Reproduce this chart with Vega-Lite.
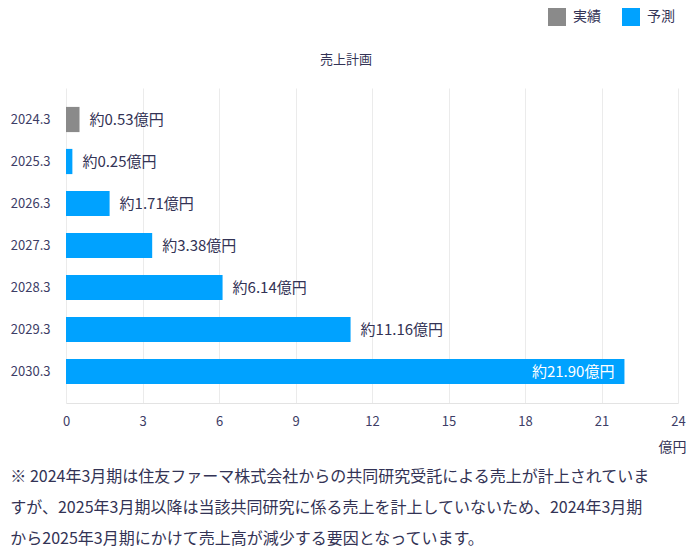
{
  "$schema": "https://vega.github.io/schema/vega-lite/v6.json",
  "padding": {"left": 10, "top": 8, "right": 10, "bottom": 6},
  "config": {"font": "Noto Sans CJK JP", "view": {"stroke": null}},
  "title": {
    "text": ["※ 2024年3月期は住友ファーマ株式会社からの共同研究受託による売上が計上されていま", "すが、2025年3月期以降は当該共同研究に係る売上を計上していないため、2024年3月期", "から2025年3月期にかけて売上高が減少する要因となっています。"],
    "orient": "bottom", "anchor": "start", "frame": "bounds",
    "fontSize": 16, "fontWeight": "normal", "color": "#333355",
    "lineHeight": 31, "offset": 15
  },
  "data": {"values": [
    {"year": "2024.3", "value": 0.53, "type": "実績", "label": "約0.53億円"},
    {"year": "2025.3", "value": 0.25, "type": "予測", "label": "約0.25億円"},
    {"year": "2026.3", "value": 1.71, "type": "予測", "label": "約1.71億円"},
    {"year": "2027.3", "value": 3.38, "type": "予測", "label": "約3.38億円"},
    {"year": "2028.3", "value": 6.14, "type": "予測", "label": "約6.14億円"},
    {"year": "2029.3", "value": 11.16, "type": "予測", "label": "約11.16億円"},
    {"year": "2030.3", "value": 21.90, "type": "予測", "label": "約21.90億円"}
  ]},
  "vconcat": [{
    "width": 612,
    "height": 315,
    "title": {"text": "売上計画", "fontSize": 13, "fontWeight": "normal", "color": "#333355", "anchor": "middle", "baseline": "bottom", "offset": 8, "dx": -26},
    "encoding": {
      "y": {"field": "year", "type": "nominal", "sort": null,
        "scale": {"paddingInner": 0.4, "paddingOuter": 0.45},
        "axis": {"title": null, "ticks": false, "domain": false, "labelPadding": 16, "labelFontSize": 13, "labelColor": "#3d3d66"}},
      "x": {"field": "value", "type": "quantitative",
        "scale": {"domain": [0, 24], "nice": false},
        "axis": {"values": [0, 3, 6, 9, 12, 15, 18, 21, 24], "grid": true, "gridColor": "#ebebeb", "domainColor": "#e3e3e3", "ticks": false, "labelPadding": 12, "labelFontSize": 13, "labelColor": "#3d3d66", "labelFlush": false,
          "title": "億円", "titleX": 620, "titleY": 44, "titleAlign": "right", "titleBaseline": "middle", "titleFontSize": 14, "titleFontWeight": "normal", "titleColor": "#333355"}}
    },
    "layer": [
      {
        "mark": {"type": "bar"},
        "encoding": {
          "color": {"field": "type", "type": "nominal",
            "scale": {"domain": ["実績", "予測"], "range": ["#8a8a8a", "#00a2ff"]},
            "legend": {"title": null, "orient": "none", "direction": "horizontal", "legendX": 482, "legendY": -80,
              "symbolType": "square", "symbolSize": 324, "symbolStrokeWidth": 0, "symbolOpacity": 1,
              "labelFontSize": 14, "labelColor": "#333355", "labelOffset": 7, "columnPadding": 21, "padding": 0}}
        }
      },
      {
        "transform": [{"filter": "datum.value < 20"}],
        "mark": {"type": "text", "align": "left", "baseline": "middle", "dx": 10, "fontSize": 15, "color": "#333355"},
        "encoding": {"text": {"field": "label"}}
      },
      {
        "transform": [{"filter": "datum.value >= 20"}],
        "mark": {"type": "text", "align": "right", "baseline": "middle", "dx": -10, "fontSize": 15, "color": "#ffffff"},
        "encoding": {"text": {"field": "label"}}
      }
    ]
  }]
}
